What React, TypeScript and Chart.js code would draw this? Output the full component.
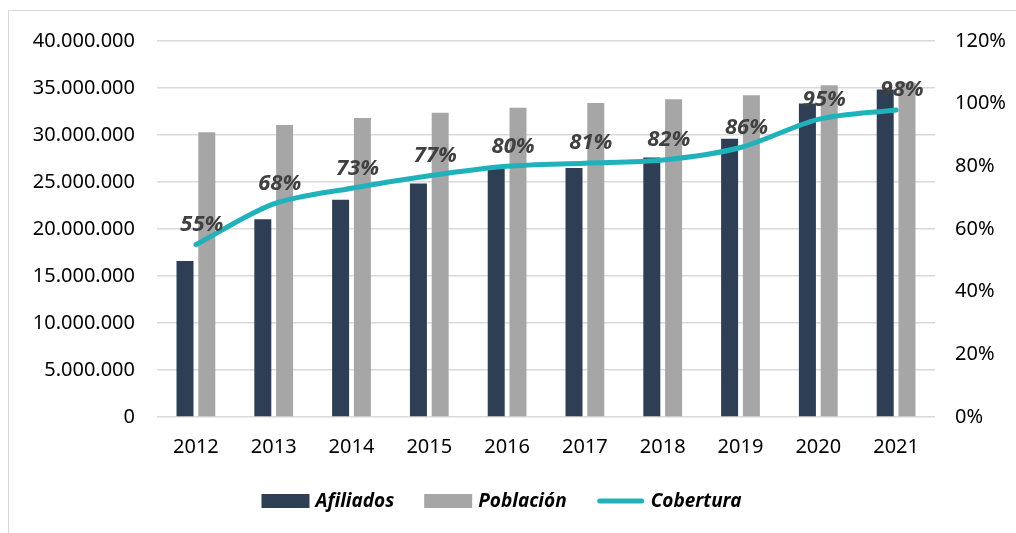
import React, { useEffect, useRef } from 'react';
import { Chart, registerables } from 'chart.js';

Chart.register(...registerables);

const years = ['2012', '2013', '2014', '2015', '2016', '2017', '2018', '2019', '2020', '2021'];
const afiliados = [16600000, 21050000, 23100000, 24850000, 26700000, 26500000, 27600000, 29600000, 33350000, 34850000];
const poblacion = [30300000, 31070000, 31800000, 32360000, 32900000, 33400000, 33800000, 34240000, 35300000, 35550000];
const cobertura = [0.55, 0.68, 0.73, 0.77, 0.80, 0.81, 0.82, 0.86, 0.95, 0.98];
const seriesNames = ['Afiliados', 'Población', 'Cobertura'];

const DARK = '#2D3E55';
const GRAY = '#A6A6A6';
const TEAL = '#20B2BB';
const FONT = "'Noto Sans', 'Open Sans', sans-serif";

const fmtThousands = (v: number) => String(Math.round(v)).replace(/\B(?=(\d{3})+(?!\d))/g, '.');

const labelPlugin = {
  id: 'coberturaLabels',
  afterDatasetsDraw(chart: any) {
    const meta = chart.getDatasetMeta(2);
    const ctx = chart.ctx;
    ctx.save();
    ctx.font = `italic bold 22px ${FONT}`;
    ctx.fillStyle = '#404040';
    ctx.textAlign = 'center';
    ctx.textBaseline = 'middle';
    meta.data.forEach((pt: any, i: number) => {
      const v = chart.data.datasets[2].data[i] as number;
      ctx.fillText(Math.round(v * 100) + '%', pt.x + 6, pt.y - 20);
    });
    ctx.restore();
  },
};

const legendPlugin = {
  id: 'customLegend',
  afterDraw(chart: any) {
    const ctx = chart.ctx;
    ctx.save();
    ctx.font = `italic bold 19px ${FONT}`;
    ctx.textBaseline = 'middle';
    const boxW = 48;
    const gapText = 6;
    const gapItem = 30;
    const ds = chart.data.datasets;
    const widths = ds.map((d: any) => boxW + gapText + ctx.measureText(d.label).width);
    const total = widths.reduce((a: number, b: number) => a + b, 0) + gapItem * (ds.length - 1);
    let x = chart.width / 2 - 11 - total / 2;
    const y = 494;
    ds.forEach((d: any, i: number) => {
      if (d.type === 'line') {
        ctx.strokeStyle = d.borderColor;
        ctx.lineWidth = 5;
        ctx.lineCap = 'round';
        ctx.beginPath();
        ctx.moveTo(x + 3, y);
        ctx.lineTo(x + boxW - 3, y);
        ctx.stroke();
      } else {
        ctx.fillStyle = d.backgroundColor;
        ctx.fillRect(x, y - 7, boxW, 14);
      }
      ctx.fillStyle = '#000';
      ctx.textAlign = 'left';
      ctx.fillText(d.label, x + boxW + gapText, y + 1);
      x += widths[i] + gapItem;
    });
    ctx.restore();
  },
};

export default function App() {
  const ref = useRef<HTMLCanvasElement>(null);
  useEffect(() => {
    if (!ref.current) return;
    const chart = new Chart(ref.current, {
      type: 'bar',
      data: {
        labels: years,
        datasets: [
          {
            type: 'bar',
            label: seriesNames[0],
            data: afiliados,
            backgroundColor: DARK,
            yAxisID: 'y',
            order: 2,
            categoryPercentage: 0.56,
            barPercentage: 0.78,
          } as any,
          {
            type: 'bar',
            label: seriesNames[1],
            data: poblacion,
            backgroundColor: GRAY,
            yAxisID: 'y',
            order: 2,
            categoryPercentage: 0.56,
            barPercentage: 0.78,
          } as any,
          {
            type: 'line',
            label: seriesNames[2],
            data: cobertura,
            borderColor: TEAL,
            backgroundColor: TEAL,
            borderWidth: 5,
            pointRadius: 0,
            tension: 0.3,
            yAxisID: 'y1',
            order: 0,
            borderCapStyle: 'round',
          } as any,
        ],
      },
      options: {
        animation: false,
        responsive: false,
        maintainAspectRatio: false,
        layout: { padding: { top: 29, bottom: 62, left: 0, right: 0 } },
        plugins: {
          legend: { display: false },
          tooltip: { enabled: false },
        },
        scales: {
          x: {
            grid: { display: false, drawTicks: false },
            border: { display: false },
            ticks: { font: { family: FONT, size: 20 }, color: '#000', padding: 18, maxRotation: 0 },
            afterFit: (s: any) => { s.height = 50; },
          },
          y: {
            position: 'left',
            min: 0,
            max: 40000000,
            grid: { color: '#D9D9D9', lineWidth: 1.5, drawTicks: false },
            border: { display: false },
            ticks: {
              stepSize: 5000000,
              font: { family: FONT, size: 20 },
              color: '#000',
              padding: 22,
              callback: (v: any) => fmtThousands(Number(v)),
            },
            afterFit: (s: any) => { s.width = 148; },
          },
          y1: {
            position: 'right',
            min: 0,
            max: 1.2,
            grid: { display: false, drawTicks: false },
            border: { display: false },
            ticks: {
              stepSize: 0.2,
              font: { family: FONT, size: 20 },
              color: '#000',
              padding: 20,
              callback: (v: any) => Math.round(Number(v) * 100) + '%',
            },
            afterFit: (s: any) => { s.width = 81; },
          },
        },
      } as any,
      plugins: [labelPlugin, legendPlugin],
    });
    return () => chart.destroy();
  }, []);

  return (
    <div
      style={{
        position: 'fixed',
        left: 8,
        top: 10,
        width: 1008,
        height: 523,
        borderTop: '1px solid #D9D9D9',
        borderLeft: '1px solid #D9D9D9',
        boxSizing: 'border-box',
        background: '#fff',
        overflow: 'visible',
      }}
    >
      <canvas
        ref={ref}
        width={1007}
        height={522}
        style={{ display: 'block', position: 'absolute', left: 0, top: -4 }}
      />
    </div>
  );
}
